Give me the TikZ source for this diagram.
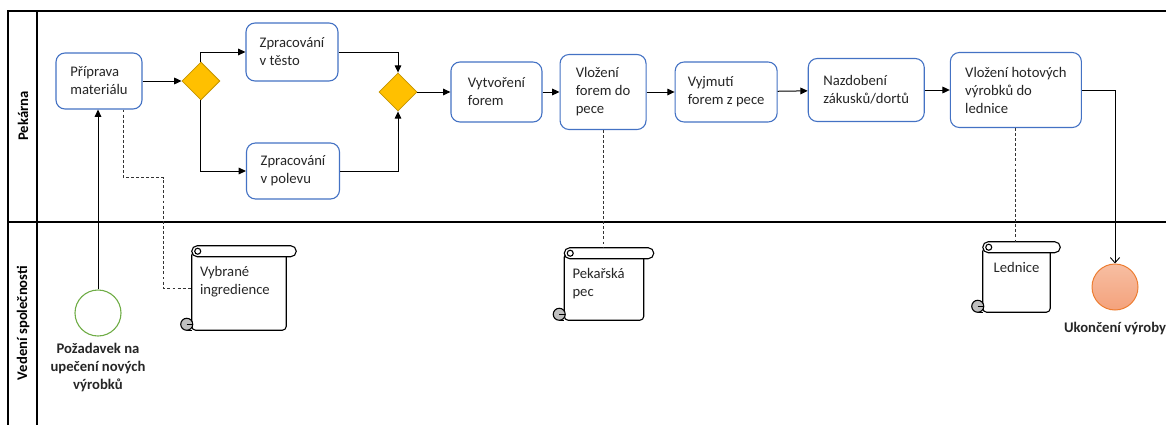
\documentclass[tikz,border=0pt]{standalone}
\usepackage{fontspec}
\setmainfont{Carlito}
\usetikzlibrary{arrows.meta,positioning,shapes.geometric,calc}
\definecolor{taskblue}{HTML}{4472C4}
\definecolor{gatefill}{HTML}{FFC000}
\definecolor{gateline}{HTML}{C49400}
\definecolor{startgreen}{HTML}{70AD47}
\definecolor{endline}{HTML}{ED7D31}
\definecolor{endtop}{HTML}{F7BEA2}
\definecolor{endbot}{HTML}{F4A27C}
\definecolor{ink}{HTML}{262626}
\definecolor{curl}{HTML}{BFBFBF}
\newdimen\pxu \pxu=0.75pt
\newcommand{\bpmnfont}{\fontsize{11}{13.5}\selectfont}
\tikzset{
  pool/.style={draw=black, line width=2\pxu},
  poolthin/.style={draw=black, line width=1.4\pxu},
  lanelbl/.style={rotate=90, font=\bpmnfont\bfseries, text=black},
  task/.style={rectangle, rounded corners=9\pxu, draw=taskblue, line width=1.1\pxu,
               fill=white, align=left, text=ink, font=\bpmnfont, inner sep=0pt},
  gate/.style={diamond, aspect=1, draw=gateline, fill=gatefill, line width=0.8\pxu,
               minimum size=38\pxu, inner sep=0pt},
  startev/.style={circle, draw=startgreen, line width=1.1\pxu, fill=white,
                  minimum size=46\pxu, inner sep=0pt},
  endev/.style={circle, draw=endline, line width=1\pxu, top color=endtop,
                bottom color=endbot, minimum size=46\pxu, inner sep=0pt},
  evlabel/.style={font=\bpmnfont\bfseries, text=ink, align=center, inner sep=2\pxu},
  artifact/.style={rectangle, inner xsep=8\pxu, inner ysep=0pt, text=ink, font=\bpmnfont},
  artline/.style={draw=black, line width=1.1\pxu},
  flow/.style={-{Triangle[length=5.5pt,width=5pt]}, draw=black, line width=1\pxu},
  endflow/.style={-{Straight Barb[length=4pt,width=7pt]}, draw=black, line width=0.9\pxu},
  assoc/.style={draw=black!80, line width=0.9\pxu, dash pattern=on 2.2pt off 1.6pt}
}
% text block of a data object: width, height, alignment, text
\newcommand{\arttext}[4]{\parbox[c][#2\pxu][t]{#1\pxu}{#3\vspace*{20\pxu}#4}}
% outline of a data object (scroll) round a named node
\newcommand{\drawartifact}[1]{%
  \draw[artline, rounded corners=4\pxu] ($(#1.north west)+(0,5.5)$) rectangle (#1.south east);
  \draw[artline] ($(#1.south west)+(-5,0)$) -- (#1.south west);
  \draw[artline, fill=curl] ($(#1.south west)+(-5,-6)$) circle[radius=6\pxu];
  \draw[artline] ($(#1.south west)+(-5,-6)$) -- ($(#1.south west)+(1,-6)$);
  \draw[artline, fill=white, rounded corners=5.5\pxu] (#1.north west) rectangle ($(#1.north east)+(10,11)$);
  \draw[artline] ($(#1.north west)+(6,5.5)$) circle[radius=3\pxu];
}

\begin{document}
\begin{tikzpicture}[x=0.75pt, y=-0.75pt]
  \useasboundingbox (0,0) rectangle (1166,425);
  % pool and lanes
  \draw[pool] (1166,11) -- (8,11) -- (8,425);
  \draw[pool] (8,222) -- (1166,222);
  \draw[poolthin] (37,11) -- (37,425);
  \node[lanelbl] (pek) at (23,116) {Pekárna};
  \node[lanelbl] (ved) at (23,323) {Vedení společnosti};

  % tasks and gateways
  \node[task, minimum width=86\pxu, minimum height=56\pxu] (prip) at (99,81) {Příprava\\materiálu};
  \node[gate, right=39\pxu of prip] (split) {};
  \node[task, minimum width=92\pxu, minimum height=58\pxu] (testo) at (292,52) {Zpracování\\v těsto};
  \node[task, minimum width=93\pxu, minimum height=56\pxu] (polevu) at (293,171) {Zpracování\\v polevu};
  \node[gate] (join) at (398,92) {};
  \node[task, minimum width=91\pxu, minimum height=60\pxu, right=33\pxu of join] (formy) {Vytvoření\\forem};
  \node[task, minimum width=86\pxu, minimum height=75\pxu, right=17\pxu of formy] (pec) {Vložení\\forem do\\pece};
  \node[task, minimum width=102\pxu, minimum height=60\pxu, right=28\pxu of pec] (vyjmuti) {Vyjmutí\\forem z pece};
  \node[task, minimum width=116\pxu, minimum height=63\pxu, right=30\pxu of vyjmuti, yshift=1.5pt] (zdobeni) {Nazdobení\\zákusků/dortů};
  \node[task, minimum width=131\pxu, minimum height=75\pxu, right=25\pxu of zdobeni] (lednice) {Vložení hotových\\výrobků do\\lednice};

  % events
  \node[startev, label={[evlabel, label distance=4\pxu]below:Požadavek na\\upečení nových\\výrobků}] (req) at (98,313) {};
  \node[endev, label={[evlabel, label distance=9\pxu]below:Ukončení výroby}] (konec) at (1115,287) {};

  % data objects
  \node[artifact] (ingr) at (239,288) {\arttext{78}{84}{\raggedright}{Vybrané\\ingredience}};
  \node[artifact] (peka) at (604,284) {\arttext{63}{72}{\raggedright}{Pekařská\\pec}};
  \node[artifact] (chlad) at (1016.5,277) {\arttext{51}{70}{\centering}{Lednice}};
  \drawartifact{ingr}
  \drawartifact{peka}
  \drawartifact{chlad}

  % sequence flows
  \draw[flow] (req.north) -- (req.north |- prip.south);
  \draw[flow] (prip) -- (split);
  \draw[flow] (split.north) |- (testo);
  \draw[flow] (split.south) |- (polevu);
  \draw[flow] (testo) -| (join.north);
  \draw[flow] (polevu) -| (join.south);
  \draw[flow] (join) -- (formy);
  \draw[flow] (formy) -- (pec);
  \draw[flow] (pec) -- (vyjmuti);
  \draw[flow] (vyjmuti) -- (zdobeni);
  \draw[flow] (zdobeni) -- (lednice);
  \draw[endflow] (lednice) -| (konec);

  % associations
  \draw[assoc] ([xshift=24\pxu]prip.south) -- ++(0,68) -| ([xshift=-28\pxu]ingr.west) -- (ingr.west);
  \draw[assoc] (pec.south) -- (pec.south |- peka.north);
  \draw[assoc] (lednice.south) -- (lednice.south |- chlad.north);
\end{tikzpicture}
\end{document}
